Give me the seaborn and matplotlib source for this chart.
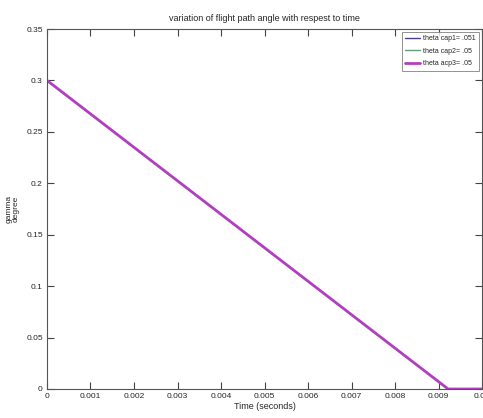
import matplotlib
matplotlib.use("Agg")
import matplotlib.pyplot as plt
import seaborn as sns
import pandas as pd

sns.set_theme(style="white")
plt.rcParams['font.family'] = ["Liberation Sans", "DejaVu Sans"]

time = [0.0, 0.00922, 0.01]
gamma1 = [0.3, 0.0, 0.0]
gamma2 = [0.3, 0.0, 0.0]
gamma3 = [0.3, 0.0, 0.0]
labels = ["theta cap1= .051", "theta cap2= .05", "theta acp3= .05"]
xticks = [0, 0.001, 0.002, 0.003, 0.004, 0.005, 0.006, 0.007, 0.008, 0.009, 0.01]
xticklabels = ["0", "0.001", "0.002", "0.003", "0.004", "0.005", "0.006", "0.007", "0.008", "0.009", "0.01"]
yticks = [0, 0.05, 0.1, 0.15, 0.2, 0.25, 0.3, 0.35]
yticklabels = ["0", "0.05", "0.1", "0.15", "0.2", "0.25", "0.3", "0.35"]

df = pd.concat([
    pd.DataFrame({"t": time, "g": gamma1, "s": labels[0]}),
    pd.DataFrame({"t": time, "g": gamma2, "s": labels[1]}),
    pd.DataFrame({"t": time, "g": gamma3, "s": labels[2]}),
])

fig = plt.figure(figsize=(4.83, 4.18), dpi=100)
ax = fig.add_axes([0.0973, 0.0694, 0.9007, 0.8612])
colors = ["#4a4090", "#5f9f80", "#b040c0"]
widths = [1.0, 1.0, 2.0]
for lab, c, w in zip(labels, colors, widths):
    sub = df[df["s"] == lab]
    sns.lineplot(data=sub, x="t", y="g", ax=ax, color=c, linewidth=w, label=lab)

ax.set_xlim(0, 0.01)
ax.set_ylim(0, 0.35)
ax.set_xticks(xticks)
ax.set_xticklabels(xticklabels)
ax.set_yticks(yticks)
ax.set_yticklabels(yticklabels)
ax.tick_params(direction="in", length=5, width=0.8, color="#444444", labelsize=6,
               top=True, right=True, bottom=True, left=True, pad=3)
for s in ax.spines.values():
    s.set_color("#555555")
    s.set_linewidth(0.8)
ax.set_xlabel("Time (seconds)", fontsize=6.5, labelpad=1)
ax.set_ylabel("gamma\ndegree", fontsize=6, labelpad=5, linespacing=1.0)
ax.set_title("variation of flight path angle with respest to time", fontsize=6.5, pad=6)
leg = ax.legend(loc="upper right", fontsize=5, frameon=True, fancybox=False,
                borderpad=0.5, handlelength=2.2, labelspacing=0.8, handletextpad=0.4,
                borderaxespad=0.4)
leg.get_frame().set_edgecolor("#777777")
leg.get_frame().set_linewidth(0.7)
fig.savefig("out.png", dpi=100)
